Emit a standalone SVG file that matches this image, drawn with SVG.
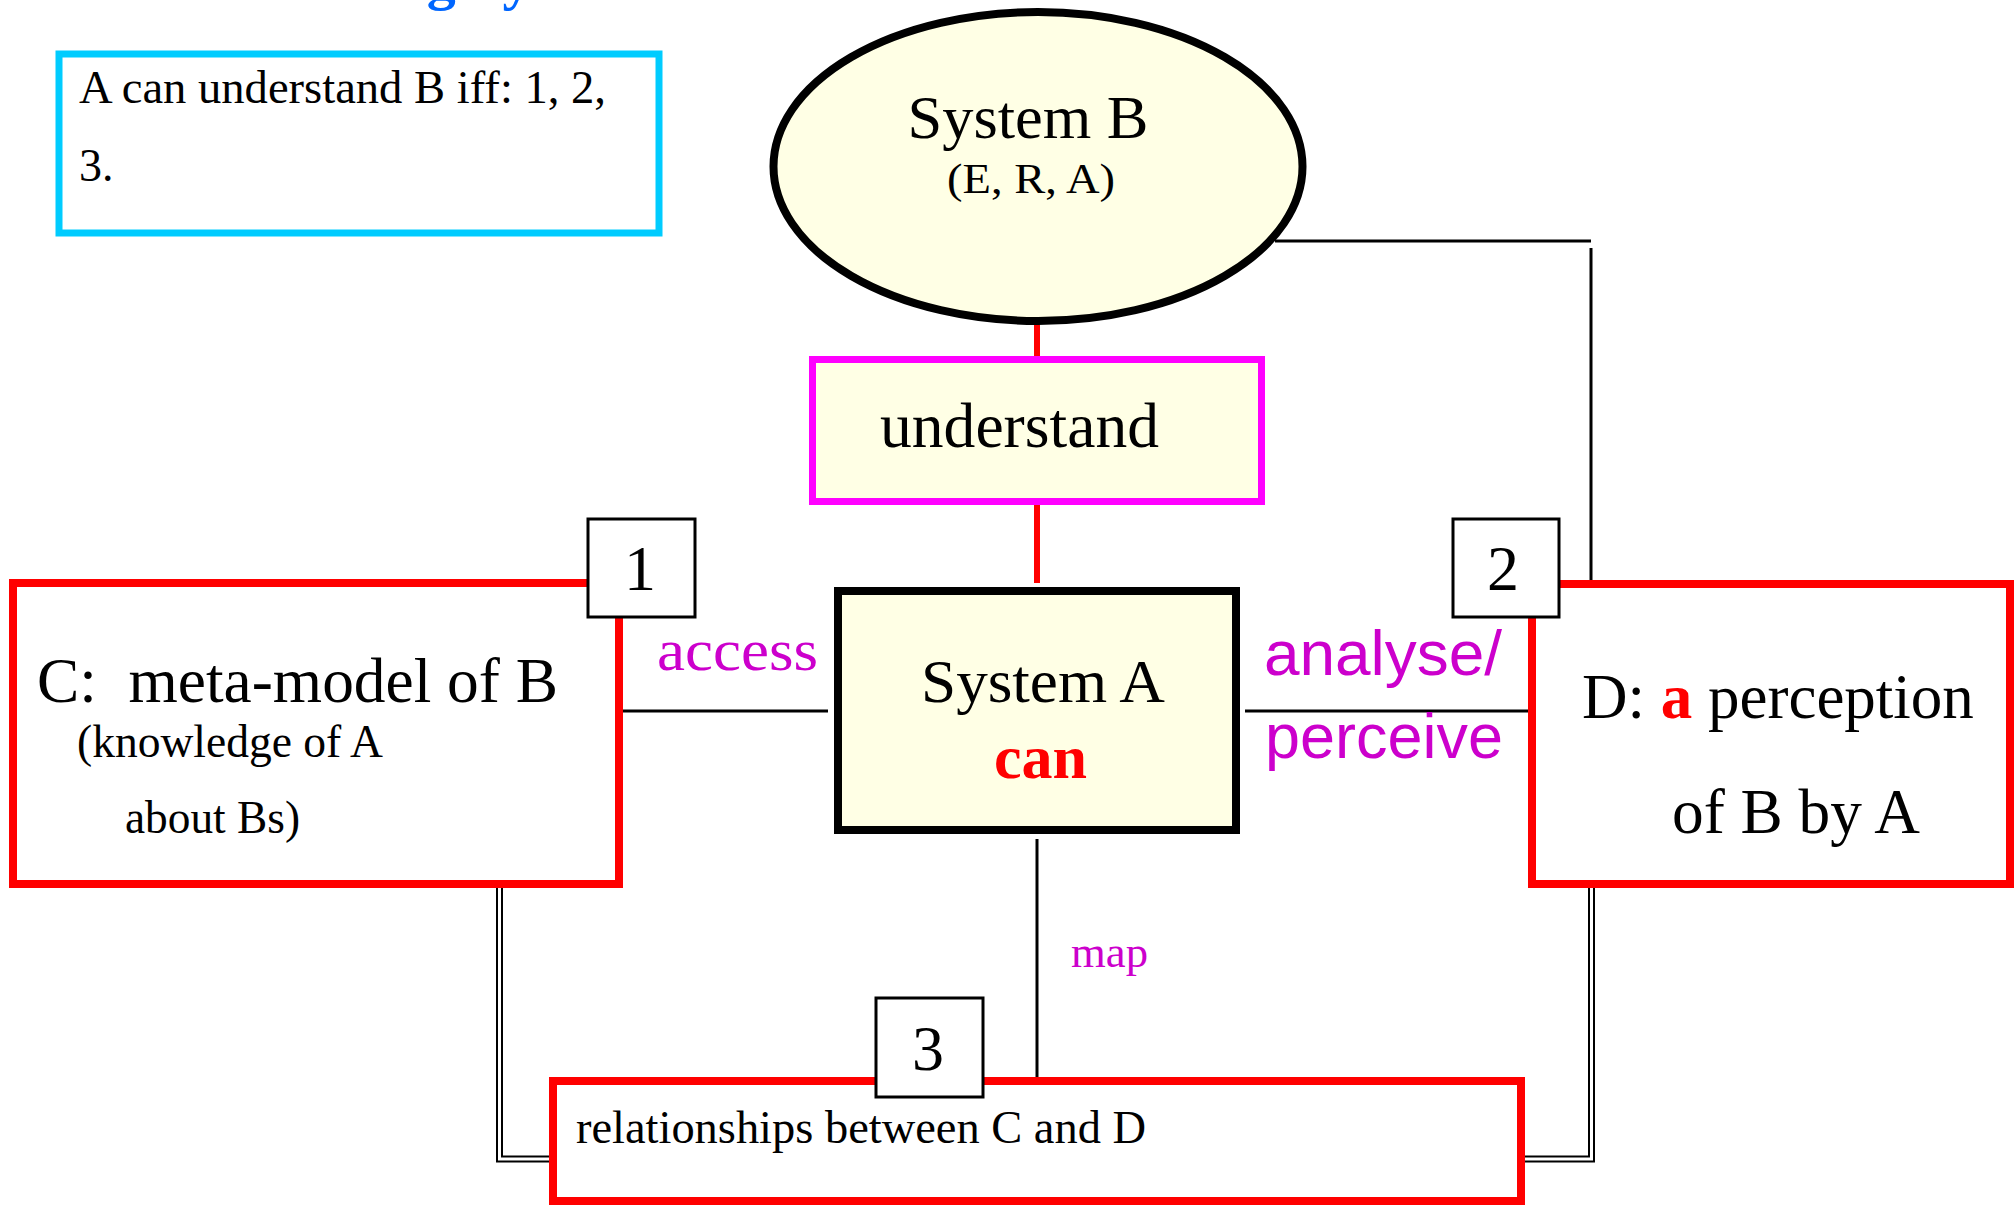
<svg xmlns="http://www.w3.org/2000/svg" width="2014" height="1205" viewBox="0 0 2014 1205">
<style>
.serif{font-family:"Liberation Serif","Times New Roman",serif;}
.sans{font-family:"Liberation Sans",Arial,sans-serif;}
.blk{fill:#000;}
.mag{fill:#cc00cc;}
.red{fill:#ff0000;}
.thin{stroke:#000;stroke-width:3;fill:none;}
.redline{stroke:#ff0000;stroke-width:6;fill:none;}
.dblo{stroke:#000;stroke-width:7;fill:none;}
.dbli{stroke:#fff;stroke-width:3;fill:none;}
.redbox{fill:#fff;stroke:#ff0000;stroke-width:8;}
.numbox{fill:#fff;stroke:#000;stroke-width:3;}
.yellow{fill:#ffffe5;}
</style>
<rect width="2014" height="1205" fill="#fff"/>

<text class="serif" x="85" y="-1" font-size="58" font-weight="bold" fill="#0066ff">Understanding Systems</text>

<g id="connectors">
  <line class="redline" x1="1037" y1="320" x2="1037" y2="362"/>
  <line class="redline" x1="1037" y1="500" x2="1037" y2="583"/>
  <line class="thin" x1="1275" y1="241" x2="1591" y2="241"/>
  <line class="thin" x1="1591" y1="248" x2="1591" y2="584" stroke-width="2.5"/>
  <line class="thin" x1="622" y1="711" x2="828" y2="711"/>
  <line class="thin" x1="1245" y1="711" x2="1532" y2="711"/>
  <line class="thin" x1="1037" y1="839" x2="1037" y2="1079" stroke-width="2.5"/>
  <path class="dblo" d="M499.5,887 V1159 H553"/>
  <path class="dbli" d="M499.5,887 V1159 H553"/>
  <path class="dblo" d="M1591.5,887 V1159 H1522"/>
  <path class="dbli" d="M1591.5,887 V1159 H1522"/>
  <text class="serif mag" x="657" y="670" font-size="60" textLength="161" lengthAdjust="spacingAndGlyphs">access</text>
  <text class="sans mag" x="1264" y="675" font-size="63" textLength="238" lengthAdjust="spacingAndGlyphs">analyse/</text>
  <text class="sans mag" x="1265" y="758" font-size="63" textLength="238" lengthAdjust="spacingAndGlyphs">perceive</text>
  <text class="serif mag" x="1071" y="967" font-size="44" textLength="77" lengthAdjust="spacingAndGlyphs">map</text>
</g>

<g id="note">
  <rect x="59" y="54" width="600" height="179" fill="#fff" stroke="#00ccff" stroke-width="7"/>
  <text class="serif blk" x="79" y="103" font-size="46" textLength="527" lengthAdjust="spacingAndGlyphs">A can understand B iff: 1, 2,</text>
  <text class="serif blk" x="79" y="181" font-size="46">3.</text>
</g>

<g id="systemB">
  <ellipse class="yellow" cx="1038" cy="166.5" rx="264.5" ry="154.5" stroke="#000" stroke-width="8"/>
  <text class="serif blk" x="1028" y="138" font-size="62" text-anchor="middle" textLength="241" lengthAdjust="spacingAndGlyphs">System B</text>
  <text class="serif blk" x="1031" y="193" font-size="42" text-anchor="middle" textLength="168" lengthAdjust="spacingAndGlyphs">(E, R, A)</text>
</g>

<g id="understand">
  <rect class="yellow" x="812.5" y="359.5" width="449" height="142" stroke="#ff00ff" stroke-width="7"/>
  <text class="serif blk" x="880" y="447" font-size="63" textLength="279" lengthAdjust="spacingAndGlyphs">understand</text>
</g>

<g id="systemA">
  <rect class="yellow" x="838" y="591" width="398" height="239" stroke="#000" stroke-width="8"/>
  <text class="serif blk" x="921" y="702" font-size="62" textLength="244" lengthAdjust="spacingAndGlyphs">System A</text>
  <text class="serif red" x="994" y="778" font-size="62" font-weight="bold" textLength="93" lengthAdjust="spacingAndGlyphs">can</text>
</g>

<g id="nodeC">
  <rect class="redbox" x="13" y="583" width="606" height="301"/>
  <text class="serif blk" x="37" y="702" font-size="63" textLength="521" lengthAdjust="spacingAndGlyphs" xml:space="preserve">C:  meta-model of B</text>
  <text class="serif blk" x="77" y="757" font-size="46" textLength="306" lengthAdjust="spacingAndGlyphs">(knowledge of A</text>
  <text class="serif blk" x="125" y="833" font-size="46" textLength="175" lengthAdjust="spacingAndGlyphs">about Bs)</text>
</g>

<g id="nodeD">
  <rect class="redbox" x="1532" y="584" width="478" height="300"/>
  <text class="serif blk" x="1582" y="718" font-size="63">D: <tspan class="red" font-weight="bold">a</tspan> perception</text>
  <text class="serif blk" x="1672" y="833" font-size="63" textLength="248" lengthAdjust="spacingAndGlyphs">of B by A</text>
</g>

<g id="nodeRel">
  <rect class="redbox" x="553" y="1081" width="968" height="120" stroke-width="7"/>
  <text class="serif blk" x="576" y="1143" font-size="46" textLength="570" lengthAdjust="spacingAndGlyphs">relationships between C and D</text>
</g>

<g id="num1">
  <rect class="numbox" x="588" y="519" width="107" height="98"/>
  <text class="serif blk" x="640" y="590" font-size="64" text-anchor="middle">1</text>
</g>
<g id="num2">
  <rect class="numbox" x="1453" y="519" width="106" height="98"/>
  <text class="serif blk" x="1503" y="590" font-size="64" text-anchor="middle">2</text>
</g>
<g id="num3">
  <rect class="numbox" x="876" y="998" width="107" height="99"/>
  <text class="serif blk" x="928" y="1070" font-size="64" text-anchor="middle">3</text>
</g>
</svg>
